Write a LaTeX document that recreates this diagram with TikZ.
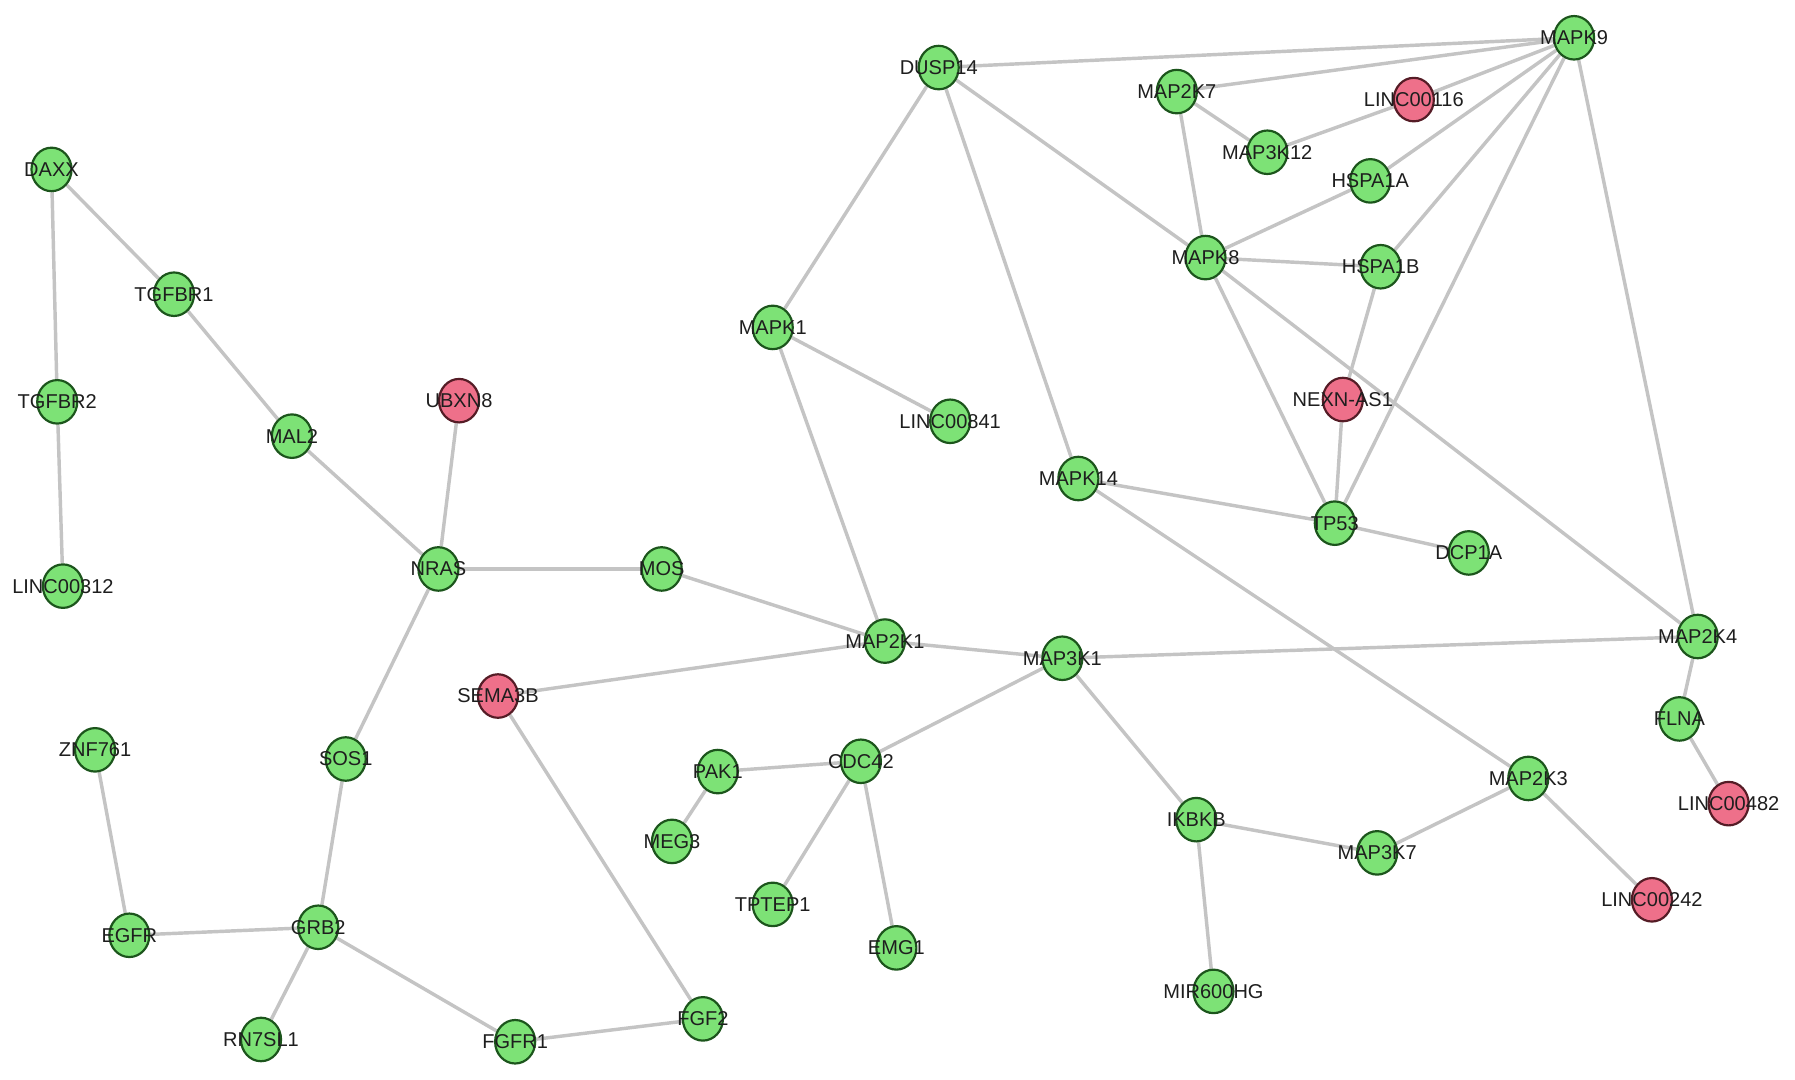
\documentclass[tikz,border=0pt]{standalone}
\usepackage{fontspec}
\setmainfont{Liberation Sans}
\usetikzlibrary{shapes.geometric,backgrounds}
\definecolor{gfill}{RGB}{125,226,118}
\definecolor{gline}{RGB}{28,85,28}
\definecolor{pfill}{RGB}{238,112,138}
\definecolor{pline}{RGB}{85,28,38}
\definecolor{edgec}{RGB}{196,196,196}
\definecolor{txt}{RGB}{30,30,30}
\tikzset{
  gn/.style={ellipse, draw=gline, fill=gfill, line width=1.9pt, minimum width=35pt, minimum height=38pt, inner sep=0pt},
  pn/.style={ellipse, draw=pline, fill=pfill, line width=1.9pt, minimum width=35pt, minimum height=38pt, inner sep=0pt},
  lab/.style={label={[text=txt, font=\fontsize{17.5}{19}\selectfont, inner sep=0pt]center:#1}},
  edge/.style={draw=edgec, line width=3pt}
}
\begin{document}
\begin{tikzpicture}[x=1pt, y=-1pt]
\useasboundingbox (0,0) rectangle (1568,943);
% nodes
\node[gn, lab=DAXX] (daxx) at (45,148) {};
\node[gn, lab=TGFBR1] (tgfbr1) at (152,257) {};
\node[gn, lab=TGFBR2] (tgfbr2) at (50,351) {};
\node[gn, lab=MAL2] (mal2) at (255,381) {};
\node[pn, lab=UBXN8] (ubxn8) at (401,350) {};
\node[gn, lab=LINC00312] (linc312) at (55,512) {};
\node[gn, lab=NRAS] (nras) at (383,497) {};
\node[gn, lab=MOS] (mos) at (578,497) {};
\node[gn, lab=SOS1] (sos1) at (302,663) {};
\node[pn, lab=SEMA3B] (sema3b) at (435,608) {};
\node[gn, lab=ZNF761] (znf761) at (83,655) {};
\node[gn, lab=EGFR] (egfr) at (113,817) {};
\node[gn, lab=GRB2] (grb2) at (278,810) {};
\node[gn, lab=RN7SL1] (rn7sl1) at (228,908) {};
\node[gn, lab=FGFR1] (fgfr1) at (450,910) {};
\node[gn, lab=FGF2] (fgf2) at (614,890) {};
\node[gn, lab=MAPK1] (mapk1) at (675,286) {};
\node[gn, lab=LINC00841] (linc841) at (830,368) {};
\node[gn, lab=DUSP14] (dusp14) at (820,59) {};
\node[gn, lab=MAP2K1] (map2k1) at (773,560) {};
\node[gn, lab=MAP3K1] (map3k1) at (928,575) {};
\node[gn, lab=CDC42] (cdc42) at (752,665) {};
\node[gn, lab=PAK1] (pak1) at (627,674) {};
\node[gn, lab=MEG3] (meg3) at (587,735) {};
\node[gn, lab=TPTEP1] (tptep1) at (675,790) {};
\node[gn, lab=EMG1] (emg1) at (783,828) {};
\node[gn, lab=MAPK14] (mapk14) at (942,418) {};
\node[gn, lab=IKBKB] (ikbkb) at (1045,716) {};
\node[gn, lab=MIR600HG] (mir600hg) at (1060,866) {};
\node[gn, lab=MAP3K7] (map3k7) at (1203,745) {};
\node[gn, lab=MAP2K3] (map2k3) at (1335,680) {};
\node[pn, lab=LINC00242] (linc242) at (1443,786) {};
\node[gn, lab=MAP2K4] (map2k4) at (1483,556) {};
\node[gn, lab=FLNA] (flna) at (1467,628) {};
\node[pn, lab=LINC00482] (linc482) at (1510,702) {};
\node[gn, lab=MAPK9] (mapk9) at (1375,33) {};
\node[gn, lab=MAP2K7] (map2k7) at (1028,80) {};
\node[pn, lab=LINC00116] (linc116) at (1235,87) {};
\node[gn, lab=MAP3K12] (map3k12) at (1107,133) {};
\node[gn, lab=HSPA1A] (hspa1a) at (1197,158) {};
\node[gn, lab=MAPK8] (mapk8) at (1053,225) {};
\node[gn, lab=HSPA1B] (hspa1b) at (1206,233) {};
\node[pn, lab=NEXN-AS1] (nexn) at (1173,349) {};
\node[gn, lab=TP53] (tp53) at (1166,457) {};
\node[gn, lab=DCP1A] (dcp1a) at (1283,483) {};
% edges
\begin{scope}[on background layer]
\fill[white] (0,0) rectangle (1568,943);
\draw[edge] (daxx) -- (tgfbr2);
\draw[edge] (daxx) -- (tgfbr1);
\draw[edge] (tgfbr2) -- (linc312);
\draw[edge] (tgfbr1) -- (mal2);
\draw[edge] (mal2) -- (nras);
\draw[edge] (ubxn8) -- (nras);
\draw[edge] (nras) -- (mos);
\draw[edge] (nras) -- (sos1);
\draw[edge] (sos1) -- (grb2);
\draw[edge] (znf761) -- (egfr);
\draw[edge] (egfr) -- (grb2);
\draw[edge] (grb2) -- (rn7sl1);
\draw[edge] (grb2) -- (fgfr1);
\draw[edge] (fgfr1) -- (fgf2);
\draw[edge] (sema3b) -- (fgf2);
\draw[edge] (sema3b) -- (map2k1);
\draw[edge] (mos) -- (map2k1);
\draw[edge] (mapk1) -- (map2k1);
\draw[edge] (mapk1) -- (linc841);
\draw[edge] (mapk1) -- (dusp14);
\draw[edge] (dusp14) -- (mapk9);
\draw[edge] (dusp14) -- (mapk8);
\draw[edge] (dusp14) -- (mapk14);
\draw[edge] (map2k1) -- (map3k1);
\draw[edge] (map3k1) -- (cdc42);
\draw[edge] (map3k1) -- (ikbkb);
\draw[edge] (map3k1) -- (map2k4);
\draw[edge] (cdc42) -- (pak1);
\draw[edge] (pak1) -- (meg3);
\draw[edge] (cdc42) -- (tptep1);
\draw[edge] (cdc42) -- (emg1);
\draw[edge] (ikbkb) -- (mir600hg);
\draw[edge] (ikbkb) -- (map3k7);
\draw[edge] (map3k7) -- (map2k3);
\draw[edge] (map2k3) -- (linc242);
\draw[edge] (mapk14) -- (map2k3);
\draw[edge] (mapk14) -- (tp53);
\draw[edge] (tp53) -- (dcp1a);
\draw[edge] (map2k4) -- (flna);
\draw[edge] (flna) -- (linc482);
\draw[edge] (mapk9) -- (map2k4);
\draw[edge] (mapk8) -- (map2k4);
\draw[edge] (mapk9) -- (map2k7);
\draw[edge] (mapk9) -- (linc116);
\draw[edge] (linc116) -- (map3k12);
\draw[edge] (mapk9) -- (hspa1a);
\draw[edge] (mapk9) -- (hspa1b);
\draw[edge] (mapk9) -- (tp53);
\draw[edge] (map2k7) -- (map3k12);
\draw[edge] (map2k7) -- (mapk8);
\draw[edge] (mapk8) -- (hspa1a);
\draw[edge] (mapk8) -- (hspa1b);
\draw[edge] (mapk8) -- (tp53);
\draw[edge] (hspa1b) -- (nexn);
\draw[edge] (nexn) -- (tp53);
\end{scope}
\end{tikzpicture}
\end{document}
